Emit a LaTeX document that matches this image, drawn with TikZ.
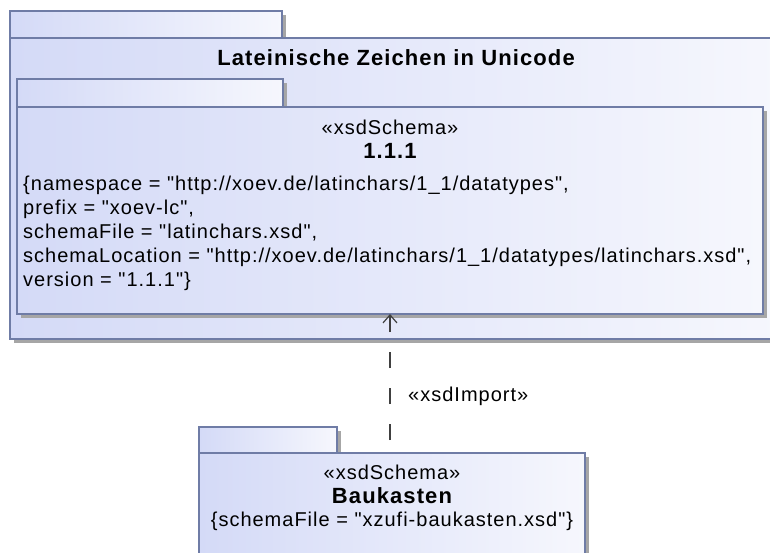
\documentclass[tikz,border=0pt]{standalone}
\usepackage{fontspec}
\newfontfamily\umlfont{Liberation Sans}[LetterSpace=5]
\usetikzlibrary{arrows.meta,shadows}
\definecolor{pkgline}{HTML}{6F7CA6}
\definecolor{pkgleft}{HTML}{D4DAF7}
\definecolor{pkgright}{HTML}{F6F7FD}
\definecolor{shadowgray}{HTML}{A6A6A6}
\definecolor{depline}{HTML}{404040}
\begin{document}
\begin{tikzpicture}[x=1pt,y=-1pt,
  pkg/.style={draw=pkgline, line width=1.2pt, left color=pkgleft, right color=pkgright,
    rectangle, inner sep=0pt, outer sep=0pt, anchor=north west,
    drop shadow={shadow xshift=4pt, shadow yshift=-4pt, fill=shadowgray, opacity=1}},
  txt/.style={font=\umlfont\fontsize{20}{24}\selectfont, inner sep=0pt, text=black},
  btxt/.style={font=\umlfont\fontsize{22}{24}\selectfont\bfseries, inner sep=0pt, text=black},
  dep/.style={draw=depline, line width=1.2pt, dash pattern=on 16pt off 20pt, dash phase=23pt,
    -{Straight Barb[length=8pt,width=14pt,line width=1.2pt]}},
]
\useasboundingbox (0,0) rectangle (770,552);
\begin{scope}
\clip (0,0) rectangle (770,552);
% outer package
\node[pkg, minimum width=272pt, minimum height=27pt] (otab) at (10,11) {};
\node[pkg, minimum width=770pt, minimum height=301pt] (obody) at (10,38) {};
\node[btxt, anchor=center] (otitle) at (396,58) {Lateinische Zeichen in Unicode};
% inner package
\node[pkg, minimum width=266pt, minimum height=28pt] (itab) at (17,79) {};
\node[pkg, minimum width=746pt, minimum height=207pt] (ibody) at (17,107) {};
\node[txt, anchor=center] (istereo) at (390,127) {«xsdSchema»};
\node[btxt, anchor=center] (iname) at (390,151) {1.1.1};
\node[txt, anchor=base west] (l1) at (23,190) {\{namespace = "http://xoev.de/latinchars/1\_1/datatypes",};
\node[txt, anchor=base west] (l2) at (23,214) {prefix = "xoev-lc",};
\node[txt, anchor=base west] (l3) at (23,238) {schemaFile = "latinchars.xsd",};
\node[txt, anchor=base west] (l4) at (23,262) {schemaLocation = "http://xoev.de/latinchars/1\_1/datatypes/latinchars.xsd",};
\node[txt, anchor=base west] (l5) at (23,286) {version = "1.1.1"\}};
% bottom package
\node[pkg, minimum width=138pt, minimum height=26pt] (btab) at (199,427) {};
\node[pkg, minimum width=386pt, minimum height=120pt] (bbody) at (199,453) {};
\node[txt, anchor=center] (bstereo) at (392,472) {«xsdSchema»};
\node[btxt, anchor=center] (bname) at (392,496) {Baukasten};
\node[txt, anchor=center] (bval) at (392,521) {\{schemaFile = "xzufi-baukasten.xsd"\}};
% dependency
\coordinate (ax) at (390,0);
\draw[dep] (bbody.north -| ax) -- (ibody.south -| ax);
\node[txt, anchor=west] (deplabel) at (408,396) {«xsdImport»};
\end{scope}
\end{tikzpicture}
\end{document}
